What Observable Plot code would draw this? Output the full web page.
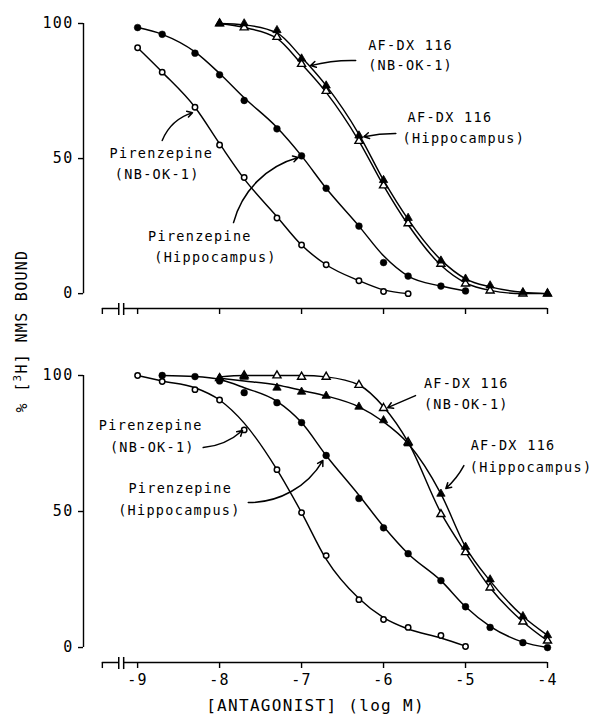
<!DOCTYPE html>
<html>
<head>
<meta charset="utf-8">
<script src="https://cdn.jsdelivr.net/npm/d3@7"></script>
<script src="https://cdn.jsdelivr.net/npm/@observablehq/plot@0.6"></script>
<style>
  body { margin: 0; background: #fff; }
  #chart { position: relative; width: 593px; height: 720px; background: #fff; overflow: hidden; }
  #chart svg { position: absolute; left: 0; }
  #chart svg text { letter-spacing: 1.3px; }
</style>
</head>
<body>
<div id="chart"></div>
<script>
// ---------- tick values ----------
const xTicks = [-9, -8, -7, -6, -5, -4];
const yTicks = [0, 50, 100];

// ---------- series names ----------
const PIR_NB = "Pirenzepine (NB-OK-1)";
const PIR_HIP = "Pirenzepine (Hippocampus)";
const AFDX_NB = "AF-DX 116 (NB-OK-1)";
const AFDX_HIP = "AF-DX 116 (Hippocampus)";

// ---------- log concentrations ----------
const xFrom9 = [-9, -8.7, -8.3, -8, -7.7, -7.3, -7, -6.7, -6.3, -6, -5.7, -5.3, -5];
const xFrom87 = [-8.7, -8.3, -8, -7.7, -7.3, -7, -6.7, -6.3, -6, -5.7, -5.3, -5, -4.7, -4.3, -4];
const xFrom8 = [-8, -7.7, -7.3, -7, -6.7, -6.3, -6, -5.7, -5.3, -5, -4.7, -4.3, -4];

// ---------- TOP panel: % bound (points) and fitted curve readings ----------
const topPirNB_x = [-9, -8.7, -8.3, -8, -7.7, -7.3, -7, -6.7, -6.3, -6, -5.7];
const topPirNB_pts = [91, 82, 69, 55, 43, 28, 18, 10.7, 4.8, 0.8, 0];
const topPirNB_fit = [91, 82, 69, 55.5, 42.5, 28.5, 18, 10.7, 4.8, 1.4, 0];

const topPirHip_x = xFrom9;
const topPirHip_pts = [98.5, 96, 89, 81, 71.5, 61, 51, 39, 25, 11.5, 6.5, 2.8, 1];
const topPirHip_fit = [98.5, 96, 89.5, 81.5, 72.5, 61.5, 51, 39, 25, 14, 6.5, 2.8, 1];

const topAfdxNB_x = xFrom8;
const topAfdxNB_pts = [100, 98.5, 95, 85, 75, 56.5, 40, 26, 11, 3.7, 1.1, 0, 0];
const topAfdxNB_fit = [100, 98.5, 94.5, 85, 74.5, 56.5, 40, 25.5, 10.5, 4, 1.2, 0, 0];

const topAfdxHip_x = xFrom8;
const topAfdxHip_pts = [100, 100, 97.5, 87, 77, 58.5, 42, 28, 12.2, 5.5, 3, 0.5, 0];
const topAfdxHip_fit = [100, 99.5, 96.5, 87.5, 77, 59, 42, 27.5, 12.5, 5.5, 2.5, 0.5, 0];

// ---------- BOTTOM panel ----------
const botPirNB_x = xFrom9;
const botPirNB_pts = [100, 97.8, 94.8, 91, 80, 65.4, 49.6, 33.8, 17.6, 10.3, 7.4, 4.4, 0.4];
const botPirNB_fit = [100, 98, 95.5, 91, 82.5, 65.4, 49.6, 32.5, 18, 11, 6.8, 3.5, 0.5];

const botPirHip_x = xFrom87;
const botPirHip_pts = [100, 99.6, 98, 93.7, 90, 82.7, 70.6, 54.8, 44, 34.5, 24.6, 15, 7.4, 1.8, 0];
const botPirHip_fit = [100, 99.6, 98.5, 95.5, 90.5, 82.7, 70.6, 56, 44.5, 34.5, 24.6, 15, 7.8, 2, 0];

const botAfdxNB_x = xFrom8;
const botAfdxNB_pts = [99, 100, 100, 99.5, 99.5, 96.5, 88, 75.5, 49, 35, 22, 9.5, 2.5];
const botAfdxNB_fit = [99.5, 100, 100, 100, 99.5, 96.5, 88.5, 75.5, 49.5, 35, 22, 9.5, 2.5];

const botAfdxHip_x = xFrom8;
const botAfdxHip_pts = [99, 99.5, 95.5, 94, 92.5, 88.5, 83.5, 75, 56.5, 37, 25, 11.5, 4.5];
const botAfdxHip_fit = [99, 98, 96.5, 94.5, 92.5, 88.5, 83, 75, 56.5, 37, 24.5, 11.5, 4.5];

// ---------- text ----------
const xTitle = "[ANTAGONIST] (log M)";
const yTitleParts = ["% [", "3", "H] NMS BOUND"];

const topNotes = [
  {text: "AF-DX 116", x: -5.67, y: 91.8},
  {text: "(NB-OK-1)", x: -5.67, y: 84.4},
  {text: "AF-DX 116", x: -5.19, y: 65.2},
  {text: "(Hippocampus)", x: -5.02, y: 57.4},
  {text: "Pirenzepine", x: -8.71, y: 51.8},
  {text: "(NB-OK-1)", x: -8.76, y: 44.1},
  {text: "Pirenzepine", x: -8.24, y: 21.1},
  {text: "(Hippocampus)", x: -8.05, y: 13.3}
];
const botNotes = [
  {text: "Pirenzepine", x: -8.84, y: 81.6},
  {text: "(NB-OK-1)", x: -8.82, y: 73.5},
  {text: "Pirenzepine", x: -8.48, y: 58.5},
  {text: "(Hippocampus)", x: -8.49, y: 50.4},
  {text: "AF-DX 116", x: -4.99, y: 97.1},
  {text: "(NB-OK-1)", x: -4.99, y: 89.3},
  {text: "AF-DX 116", x: -4.42, y: 74.3},
  {text: "(Hippocampus)", x: -4.20, y: 66.2}
];
const topArrows = [
  {x1: -6.34, y1: 86.3, x2: -6.89, y2: 84.4, bend: -8},
  {x1: -5.85, y1: 59.3, x2: -6.24, y2: 58.1, bend: -6},
  {x1: -8.70, y1: 56.7, x2: -8.33, y2: 67.0, bend: 25},
  {x1: -7.83, y1: 26.3, x2: -7.04, y2: 50.4, bend: 30}
];
const botArrows = [
  {x1: -8.20, y1: 73.5, x2: -7.72, y2: 79.8, bend: -18},
  {x1: -7.65, y1: 53.3, x2: -6.74, y2: 68.75, bend: -30},
  {x1: -5.61, y1: 92.6, x2: -5.95, y2: 88.2, bend: 0},
  {x1: -5.02, y1: 66.9, x2: -5.24, y2: 58.5, bend: 10}
];

// axis geometry (data units)
const xDomain = [-9.66, -4];
const yMin = -5.5;
const xAxisStart = -9.43;
const breakX = [-9.23, -9.17];

// ---------- build tables ----------
function rows(series, xs, pts, fit) {
  return xs.map((x, i) => ({series, x, pt: pts[i], fit: fit[i]}));
}
const topData = [
  ...rows(PIR_NB, topPirNB_x, topPirNB_pts, topPirNB_fit),
  ...rows(PIR_HIP, topPirHip_x, topPirHip_pts, topPirHip_fit),
  ...rows(AFDX_NB, topAfdxNB_x, topAfdxNB_pts, topAfdxNB_fit),
  ...rows(AFDX_HIP, topAfdxHip_x, topAfdxHip_pts, topAfdxHip_fit)
];
const botData = [
  ...rows(PIR_NB, botPirNB_x, botPirNB_pts, botPirNB_fit),
  ...rows(PIR_HIP, botPirHip_x, botPirHip_pts, botPirHip_fit),
  ...rows(AFDX_NB, botAfdxNB_x, botAfdxNB_pts, botAfdxNB_fit),
  ...rows(AFDX_HIP, botAfdxHip_x, botAfdxHip_pts, botAfdxHip_fit)
];

function panel({data, notes, arrows, height, marginTop, marginBottom, labels}) {
  const seg = [{x1: xAxisStart, x2: breakX[0], y: yMin}, {x1: breakX[1], x2: xDomain[1], y: yMin}];
  const marks = [
    Plot.ruleX([xDomain[0]], {y1: 0, y2: 100, stroke: "black", strokeWidth: 1.4}),
    Plot.axisY({ticks: yTicks, tickSize: 5, tickPadding: 5, label: null, fontSize: 15, strokeWidth: 1.4}),
    Plot.ruleY(seg, {x1: "x1", x2: "x2", y: "y", stroke: "black", strokeWidth: 1.5}),
    Plot.ruleX([xAxisStart], {y1: yMin, y2: yMin - 6 / 2.7, stroke: "black", strokeWidth: 1.4}),
    Plot.ruleX(breakX, {y1: yMin + 5 / 2.7, y2: yMin - 7 / 2.7, stroke: "black", strokeWidth: 1.5}),
    Plot.axisX({
      ticks: xTicks, tickSize: 6, tickPadding: 6, label: null, fontSize: 15, strokeWidth: 1.4,
      tickFormat: labels ? (d => String(d)) : (() => "")
    }),
    Plot.line(data, {x: "x", y: "fit", z: "series", curve: "monotone-x", stroke: "black", strokeWidth: 1.45}),
    Plot.dot(data.filter(d => d.series === PIR_NB), {x: "x", y: "pt", r: 2.7, fill: "white", stroke: "black", strokeWidth: 1.5}),
    Plot.dot(data.filter(d => d.series === PIR_HIP), {x: "x", y: "pt", r: 3.4, fill: "black", stroke: "black", strokeWidth: 0.5}),
    Plot.dot(data.filter(d => d.series === AFDX_NB), {x: "x", y: "pt", symbol: "triangle", r: 3, fill: "white", stroke: "black", strokeWidth: 1.4}),
    Plot.dot(data.filter(d => d.series === AFDX_HIP), {x: "x", y: "pt", symbol: "triangle", r: 3.1, fill: "black", stroke: "black", strokeWidth: 0.8}),
    Plot.text(notes, {x: "x", y: "y", text: "text", fontSize: 13.5, textAnchor: "middle", fill: "black"}),
    ...arrows.map(a => Plot.arrow([a], {x1: "x1", y1: "y1", x2: "x2", y2: "y2", bend: a.bend, headLength: 6, strokeWidth: 1.5, stroke: "black"}))
  ];
  if (labels) {
    marks.push(Plot.text([xTitle], {frameAnchor: "bottom", dy: 48, fontSize: 16, fill: "black"}));
  }
  return Plot.plot({
    width: 593,
    height,
    marginLeft: 83,
    marginRight: 46,
    marginTop,
    marginBottom,
    x: {domain: xDomain},
    y: {domain: [yMin, 100]},
    style: {fontFamily: "'DejaVu Sans Mono', monospace", fontSize: "15px", color: "black", background: "white", overflow: "visible"},
    marks
  });
}

const chartDiv = document.getElementById("chart");
const topPanel = panel({data: topData, notes: topNotes, arrows: topArrows, height: 330, marginTop: 23, marginBottom: 22, labels: false});
topPanel.style.top = "0px";
chartDiv.appendChild(topPanel);
const botPanel = panel({data: botData, notes: botNotes, arrows: botArrows, height: 390, marginTop: 45, marginBottom: 58, labels: true});
botPanel.style.top = "330px";
chartDiv.appendChild(botPanel);

const ov = d3.create("svg").attr("width", 593).attr("height", 720)
  .style("top", "0px").style("pointer-events", "none").style("overflow", "visible");
const yt = ov.append("text")
  .attr("transform", "translate(27,331) rotate(-90)")
  .attr("text-anchor", "middle")
  .attr("font-family", "'DejaVu Sans Mono', monospace")
  .attr("font-size", 15)
  .attr("fill", "black");
yt.append("tspan").text(yTitleParts[0]);
yt.append("tspan").attr("dy", -6).attr("font-size", 11).text(yTitleParts[1]);
yt.append("tspan").attr("dy", 6).text(yTitleParts[2]);
chartDiv.appendChild(ov.node());
</script>
</body>
</html>
